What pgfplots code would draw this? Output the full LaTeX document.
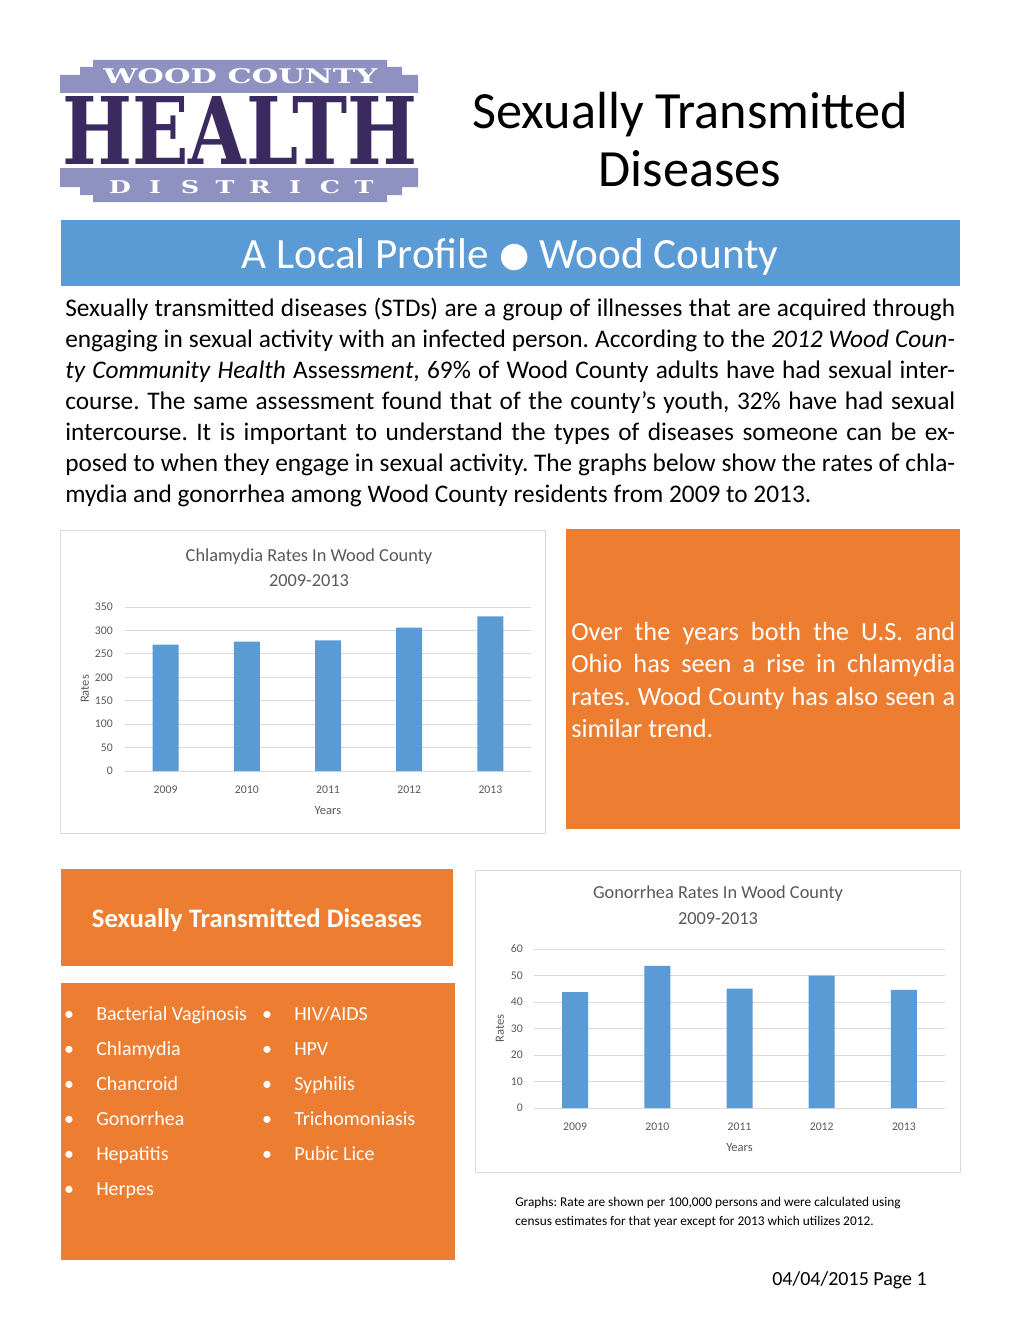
\documentclass[border=0pt]{standalone}
\usepackage{graphicx}
\usepackage{pgfplots}
\pgfplotsset{compat=1.18}
\usepackage{fontspec}
\setmainfont{Carlito}
\newfontfamily\dejavu{DejaVu Sans}
\newfontfamily\logofont{DejaVu Serif}
\definecolor{orng}{HTML}{ED7D31}
\definecolor{blu}{HTML}{5B9BD5}
\definecolor{lpur}{RGB}{143,145,193}
\definecolor{dpur}{RGB}{59,42,96}
\definecolor{gtxt}{HTML}{595959}
\definecolor{gridc}{HTML}{D9D9D9}
\newlength\px \setlength\px{0.75pt}
\newcommand\bodyfont{\fontsize{19pt}{22pt}\selectfont}
\newcommand\boxfont{\fontsize{19.7pt}{23pt}\selectfont}
\newcommand\listfont{\fontsize{15pt}{18pt}\selectfont}
\newcommand\ctitle{\fontsize{13.75pt}{16pt}\selectfont}
\frenchspacing
\pgfplotstableread{
x y
0 269.8
1 276
2 279
3 306
4 330
}\chlam
\pgfplotstableread{
x y
0 43.7
1 53.6
2 45.1
3 50
4 44.6
}\gono
\pgfplotsset{chartstyle/.style={
  scale only axis,
  ybar, bar width=19.5pt,
  xmin=-0.5, xmax=4.5, ymin=0,
  xtick={0,1,2,3,4}, xticklabels={2009,2010,2011,2012,2013},
  axis line style={draw=none},
  major tick style={draw=none},
  ymajorgrids, grid style={gridc, line width=0.75pt},
  /pgf/number format/assume math mode=true,
  tick label style={font=\fontsize{8.8pt}{10pt}\selectfont, text=gtxt},
  xticklabel style={anchor=center, inner sep=0pt, yshift=-9.75pt},
  xlabel={Years}, ylabel={Rates},
  label style={font=\fontsize{9.4pt}{11pt}\selectfont, text=gtxt},
}}
\begin{document}
\begin{tikzpicture}[x=0.75pt,y=-0.75pt]
\useasboundingbox (0,0) rectangle (1020,1320);
\fill[white] (0,0) rectangle (1020,1320);
% logo
\fill[lpur] (93,60) -- (387,60) -- (387,67) -- (402,67) -- (402,75) -- (418,75) -- (418,93) -- (60,93) -- (60,75) -- (80,75) -- (80,67) -- (93,67) -- cycle;
\fill[lpur] (60,168) -- (418,168) -- (418,187) -- (402,187) -- (402,195) -- (387,195) -- (387,202) -- (93,202) -- (93,195) -- (80,195) -- (80,187) -- (60,187) -- cycle;
\node[anchor=south west, inner sep=0pt, text=dpur] at (62,165) {\resizebox{355\px}{68\px}{\logofont\bfseries HEALTH}};
\node[anchor=south west, inner sep=0pt, text=white] at (103,84) {\resizebox{274\px}{15\px}{\logofont\bfseries WOOD COUNTY}};
\foreach \xx/\ll in {120/D,155/I,190/S,225/T,260/R,295/I,330/C,364/T}
  \node[anchor=base, inner sep=0pt, text=white] at (\xx,193) {\scalebox{1.45}[1]{\fontsize{13.2pt}{14pt}\logofont\bfseries \ll}};
% title
\node[anchor=base, inner sep=0pt, font=\fontsize{39.2pt}{44pt}\selectfont] at (690,128) {Sexually Transmitted};
\node[anchor=base, inner sep=0pt, font=\fontsize{39.2pt}{44pt}\selectfont] at (690,186) {Diseases};
% blue band
\fill[blu] (61,220) rectangle (960,286);
\node[anchor=base, inner sep=0pt, text=white, font=\fontsize{32.4pt}{36pt}\selectfont] at (510,268) {A Local Profile {\dejavu\fontsize{26pt}{26pt}\selectfont\raisebox{1pt}{●}} Wood County};
% body text
\begin{scope}[every node/.style={anchor=base west, inner sep=0pt, font=\bodyfont}]
\node at (65,316) {\makebox[667.5pt][s]{Sexually transmitted diseases (STDs) are a group of illnesses that are acquired through}};
\node at (65,347) {\makebox[667.5pt][s]{engaging in sexual activity with an infected person. According to the \textit{2012 Wood Coun-}}};
\node at (65,378) {\makebox[667.5pt][s]{\textit{ty Community Health} Assess\textit{ment}, 69\% of Wood County adults have had sexual inter-}};
\node at (65,409) {\makebox[667.5pt][s]{course. The same assessment found that of the county’s youth, 32\% have had sexual}};
\node at (65,440) {\makebox[667.5pt][s]{intercourse. It is important to understand the types of diseases someone can be ex-}};
\node at (65,471) {\makebox[667.5pt][s]{posed to when they engage in sexual activity. The graphs below show the rates of chla-}};
\node at (65,502) {mydia and gonorrhea among Wood County residents from 2009 to 2013.};
\end{scope}
% chart frames
\draw[gridc, line width=0.75pt] (60,530) rectangle (545,833);
\draw[gridc, line width=0.75pt] (475,870) rectangle (960,1172);
% orange boxes
\fill[orng] (566,529) rectangle (960,829);
\fill[orng] (61,869) rectangle (453,966);
\fill[orng] (61,983) rectangle (455,1260);
\begin{scope}[every node/.style={anchor=base west, inner sep=0pt, font=\boxfont, text=white}]
\node at (571,640) {\makebox[288pt][s]{Over the years both the U.S. and}};
\node at (571,672.5) {\makebox[288pt][s]{Ohio has seen a rise in chlamydia}};
\node at (571,705) {\makebox[288pt][s]{rates. Wood County has also seen a}};
\node at (571,737.5) {similar trend.};
\end{scope}
\node[anchor=base, inner sep=0pt, text=white, font=\fontsize{20pt}{23pt}\selectfont\bfseries] at (257,927) {Sexually Transmitted Diseases};
\begin{scope}[every node/.style={anchor=base west, inner sep=0pt, font=\listfont, text=white}]
\foreach \yy/\aa/\bb in {1020/Bacterial Vaginosis/HIV\slash AIDS,1055/Chlamydia/HPV,1090/Chancroid/Syphilis,1125/Gonorrhea/Trichomoniasis,1160/Hepatitis/Pubic Lice}{
  \node[anchor=base] at (69,\yy) {•};
  \node at (96,\yy) {\aa};
  \node[anchor=base] at (267,\yy) {•};
  \node at (294,\yy) {\bb};
}
\node[anchor=base] at (69,1195) {•};
\node at (96,1195) {Herpes};
\end{scope}
% chart titles
\node[anchor=center, text=gtxt, font=\ctitle] at (309,557) {Chlamydia Rates In Wood County};
\node[anchor=center, text=gtxt, font=\ctitle] at (309,581) {2009-2013};
\node[anchor=center, text=gtxt, font=\ctitle] at (718,894) {Gonorrhea Rates In Wood County};
\node[anchor=center, text=gtxt, font=\ctitle] at (718,919) {2009-2013};
% chlamydia chart
\begin{axis}[chartstyle,
  at={(93.75pt,-578.25pt)}, anchor=south west,
  width=304.5pt, height=123pt,
  ymax=350, ytick={0,50,...,350},
  yticklabel style={anchor=east, inner sep=0pt, xshift=-9pt},
  xlabel style={at={(axis description cs:0.5,-0.2439)}, anchor=center},
  ylabel style={at={(axis description cs:-0.0985,0.5)}, anchor=center},
]
\addplot[fill=blu, draw=none] table[x=x,y=y] {\chlam};
\end{axis}
% gonorrhea chart
\begin{axis}[chartstyle,
  at={(400.5pt,-831pt)}, anchor=south west,
  width=308.25pt, height=119.25pt,
  ymax=60, ytick={0,10,...,60},
  yticklabel style={anchor=east, inner sep=0pt, xshift=-8.25pt},
  xlabel style={at={(axis description cs:0.5,-0.2516)}, anchor=center},
  ylabel style={at={(axis description cs:-0.0827,0.5)}, anchor=center},
]
\addplot[fill=blu, draw=none] table[x=x,y=y] {\gono};
\end{axis}
% footer
\node[anchor=base west, inner sep=0pt, font=\fontsize{10pt}{12pt}\selectfont] at (515,1206) {Graphs: Rate are shown per 100,000 persons and were calculated using};
\node[anchor=base west, inner sep=0pt, font=\fontsize{10pt}{12pt}\selectfont] at (515,1225) {census estimates for that year except for 2013 which utilizes 2012.};
\node[anchor=base east, inner sep=0pt, font=\fontsize{15pt}{18pt}\selectfont] at (927,1285) {04/04/2015 Page 1};
\end{tikzpicture}
\end{document}
